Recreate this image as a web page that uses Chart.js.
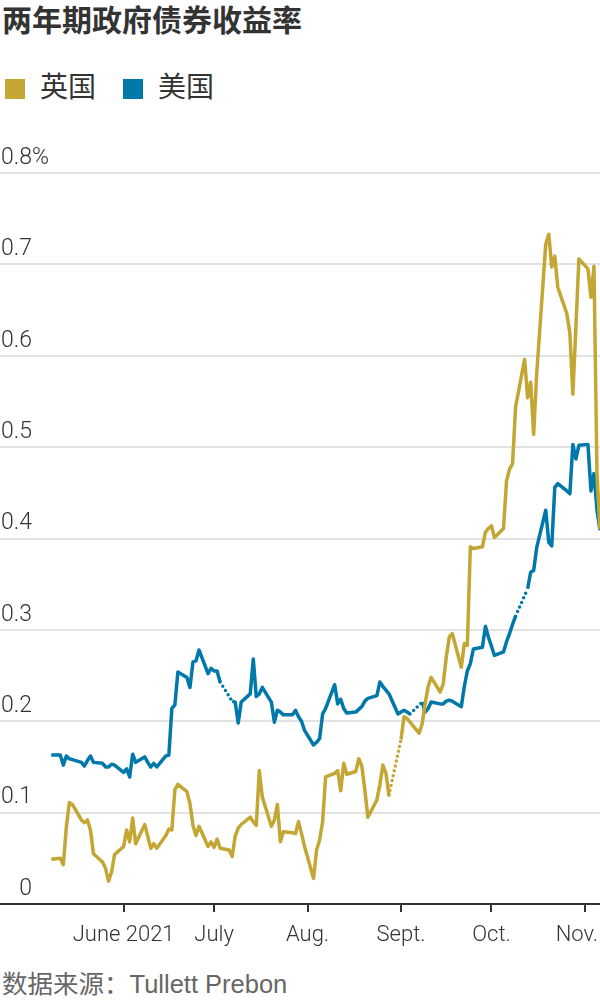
<!DOCTYPE html>
<html lang="zh-CN">
<head>
<meta charset="utf-8">
<title>两年期政府债券收益率</title>
<script src="https://cdn.jsdelivr.net/npm/chart.js@4.4.1/dist/chart.umd.min.js"></script>
<style>
  html, body { margin: 0; padding: 0; background: #fff; }
  body { width: 600px; height: 1000px; position: relative; overflow: hidden; color: #333;
         font-family: "Noto Sans CJK SC", sans-serif; }
  #title { position: absolute; left: 2px; top: 3px; margin: 0; font-size: 30px; line-height: 1; font-weight: bold; }
  .swatch { position: absolute; top: 79px; width: 20px; height: 20px; }
  .key { position: absolute; top: 71px; font-size: 28px; line-height: 1; }
  #chart { position: absolute; left: 0; top: 115px; }
  #source { position: absolute; left: 2px; top: 972px; font-size: 25.5px; line-height: 1; color: #666;
            font-family: "Liberation Sans", "Noto Sans CJK SC", sans-serif; }
</style>
</head>
<body>
<h1 id="title">两年期政府债券收益率</h1>
<span class="swatch" style="left:5px;background:#C4A634"></span><span class="key" style="left:40px">英国</span>
<span class="swatch" style="left:123px;background:#0079AA"></span><span class="key" style="left:158px">美国</span>
<canvas id="chart" width="600" height="843"></canvas>
<div id="source">数据来源：Tullett Prebon</div>

<script>
// trading days, 2021 (null = market closed that day)
const dates = [
  '05-07','05-10','05-11','05-12','05-13','05-14','05-17','05-18','05-19','05-20','05-21','05-24','05-25','05-26','05-27','05-28','05-31',
  '06-01','06-02','06-03','06-04','06-07','06-08','06-09','06-10','06-11','06-14','06-15','06-16','06-17','06-18','06-21','06-22','06-23','06-24','06-25','06-28','06-29','06-30',
  '07-01','07-02','07-05','07-06','07-07','07-08','07-09','07-12','07-13','07-14','07-15','07-16','07-19','07-20','07-21','07-22','07-23','07-26','07-27','07-28','07-29','07-30',
  '08-02','08-03','08-04','08-05','08-06','08-09','08-10','08-11','08-12','08-13','08-16','08-17','08-18','08-19','08-20','08-23','08-24','08-25','08-26','08-27','08-30','08-31',
  '09-01','09-02','09-03','09-06','09-07','09-08','09-09','09-10','09-13','09-14','09-15','09-16','09-17','09-20','09-21','09-22','09-23','09-24','09-27','09-28','09-29','09-30',
  '10-01','10-04','10-05','10-06','10-07','10-08','10-11','10-12','10-13','10-14','10-15','10-18','10-19','10-20','10-21','10-22','10-25','10-26','10-27','10-28','10-29',
  '11-01','11-02','11-03','11-04','11-05'
];

const ukYield = [
  0.049, 0.050, 0.043, 0.084, 0.111, 0.109, 0.092, 0.089, 0.092, 0.081, 0.055, 0.046, 0.039, 0.025, 0.035, 0.054, 0.063,
  0.081, 0.068, 0.094, 0.066, 0.087, 0.074, 0.061, 0.066, 0.061, 0.075, 0.082, 0.081, 0.125, 0.131, 0.123, 0.110, 0.086, 0.075, 0.085, 0.063, 0.068, 0.062,
  0.071, 0.061, 0.059, 0.052, 0.074, 0.083, 0.087, 0.095, 0.090, 0.086, 0.146, 0.117, 0.085, 0.092, 0.109, 0.068, 0.079, 0.078, 0.077, 0.090, 0.077, 0.063,
  0.028, 0.059, 0.070, 0.090, 0.139, 0.143, 0.146, 0.124, 0.154, 0.142, 0.145, 0.159, 0.151, 0.125, 0.095, 0.114, 0.131, 0.152, 0.143, 0.119, null, 0.180,
  0.205, 0.203, 0.199, 0.187, 0.197, 0.219, 0.238, 0.248, 0.232, 0.241, 0.270, 0.292, 0.296, 0.259, 0.285, 0.283, 0.391, 0.389, 0.391, 0.407, 0.411, 0.414,
  0.401, 0.411, 0.463, 0.476, 0.482, 0.544, 0.596, 0.554, 0.571, 0.514, 0.580, 0.722, 0.733, 0.697, 0.709, 0.675, 0.646, 0.625, 0.558, 0.631, 0.706,
  0.695, 0.664, 0.698, 0.470, 0.410
];

const usYield = [
  0.163, 0.163, 0.152, 0.162, 0.159, 0.158, 0.155, 0.151, 0.157, 0.162, 0.155, 0.154, 0.150, 0.150, 0.153, 0.152, 0.144,
  0.148, 0.139, 0.164, 0.155, 0.161, 0.155, 0.150, 0.154, 0.150, 0.162, 0.163, 0.214, 0.218, 0.254, 0.248, 0.237, 0.265, 0.266, 0.278, 0.252, 0.258, 0.255,
  0.255, 0.243, null, 0.222, 0.221, 0.198, 0.221, 0.230, 0.268, 0.227, 0.230, 0.237, 0.221, 0.199, 0.212, 0.210, 0.207, 0.207, 0.212, 0.205, 0.200, 0.190,
  0.174, 0.177, 0.181, 0.208, 0.214, 0.240, 0.219, 0.224, 0.214, 0.209, 0.210, 0.213, 0.216, 0.222, 0.225, 0.228, 0.243, 0.238, 0.234, 0.230, 0.208, 0.210,
  0.212, 0.210, 0.208, null, 0.221, 0.210, 0.214, 0.221, 0.219, 0.219, 0.222, 0.223, 0.222, 0.216, 0.238, 0.255, 0.263, 0.279, 0.281, 0.304, 0.292, 0.282,
  0.272, 0.276, 0.287, 0.296, 0.306, 0.315, null, 0.345, 0.363, 0.365, 0.390, 0.431, 0.396, 0.392, 0.456, 0.460, 0.452, 0.449, 0.503, 0.487, 0.502,
  0.503, 0.452, 0.471, 0.431, 0.409
];

const monthStarts = ['06-01', '07-01', '08-01', '09-01', '10-01', '11-01'];
const monthLabels = ['June 2021', 'July', 'Aug.', 'Sept.', 'Oct.', 'Nov.'];
const yTickValues = [0, 0.1, 0.2, 0.3, 0.4, 0.5, 0.6, 0.7, 0.8];
const yTickLabels = ['0', '0.1', '0.2', '0.3', '0.4', '0.5', '0.6', '0.7', '0.8'];
const unitLabel = '%';

const GOLD = '#C4A634';
const BLUE = '#0079AA';
const tickFont = 'Roboto, "Liberation Sans", sans-serif';

// days since 1 May 2021
const origin = Date.UTC(2021, 4, 1);
function dayNum(md) {
  const [m, d] = md.split('-').map(Number);
  return (Date.UTC(2021, m - 1, d) - origin) / 864e5;
}
// each close sits at the end of its trading day
const toPoints = values => dates.map((d, i) => ({ x: dayNum(d) + 1, y: values[i] }));

const gap = (ctx, val) => (ctx.p0.skip || ctx.p1.skip) ? val : undefined;

// the "%" after the top y label
const percentSign = {
  id: 'percentSign',
  afterDraw(chart) {
    const scale = chart.scales.y;
    const t = scale.options.ticks;
    const ctx = chart.ctx;
    ctx.save();
    ctx.font = Chart.helpers.toFont(t.font).string;
    ctx.fillStyle = t.color;
    ctx.textBaseline = 'middle';
    ctx.textAlign = 'left';
    const last = yTickLabels.length - 1;
    const x = scale.right + t.padding + ctx.measureText(yTickLabels[last]).width;
    ctx.fillText(unitLabel, x, scale.getPixelForValue(yTickValues[last]) + t.labelOffset);
    ctx.restore();
  }
};

function lineSet(label, values, color) {
  return {
    label: label,
    data: toPoints(values),
    borderColor: color,
    backgroundColor: color,
    borderWidth: 3.5,
    borderJoinStyle: 'round',
    pointRadius: 0,
    tension: 0,
    spanGaps: true,
    segment: {
      borderDash: ctx => gap(ctx, [0, 5]),
      borderCapStyle: ctx => gap(ctx, 'round')
    }
  };
}

new Chart(document.getElementById('chart'), {
  type: 'line',
  data: {
    datasets: [
      lineSet('英国', ukYield, GOLD),
      lineSet('美国', usYield, BLUE)
    ]
  },
  plugins: [percentSign],
  options: {
    responsive: false,
    animation: false,
    layout: { padding: { top: 58, bottom: 0, left: 0, right: 0 } },
    plugins: {
      legend: { display: false },
      tooltip: { enabled: false }
    },
    scales: {
      x: {
        type: 'linear',
        bounds: 'data',
        min: -10,
        max: 189,
        afterBuildTicks: axis => { axis.ticks = monthStarts.map(s => ({ value: dayNum(s) })); },
        afterFit: axis => { axis.paddingLeft = 0; axis.paddingRight = 0; axis.height = 54; },
        ticks: {
          autoSkip: false,
          maxRotation: 0,
          minRotation: 0,
          padding: 10,
          color: '#333',
          font: { family: tickFont, size: 22, weight: '300', lineHeight: 1.2 },
          // last label is pulled in a little so it stays inside the frame
          callback: (v, i) => i === monthLabels.length - 1 ? monthLabels[i] + '   ' : monthLabels[i]
        },
        grid: { drawOnChartArea: false, drawTicks: true, tickLength: 8, color: '#333', lineWidth: 2 },
        border: { display: true, color: '#333', width: 2 }
      },
      y: {
        min: 0,
        max: 0.8,
        afterBuildTicks: axis => { axis.ticks = yTickValues.map(v => ({ value: v })); },
        afterFit: axis => { axis.width = 0; },
        ticks: {
          mirror: true,
          crossAlign: 'far',
          padding: 1,
          labelOffset: -15,
          color: '#333',
          font: { family: tickFont, size: 23, weight: '300' },
          callback: (v, i) => yTickLabels[i]
        },
        grid: {
          drawTicks: false,
          lineWidth: 2,
          color: ctx => ctx.tick && ctx.tick.value === 0 ? 'rgba(0,0,0,0)' : '#e2e2e2'
        },
        border: { display: false }
      }
    }
  }
});
</script>
</body>
</html>
